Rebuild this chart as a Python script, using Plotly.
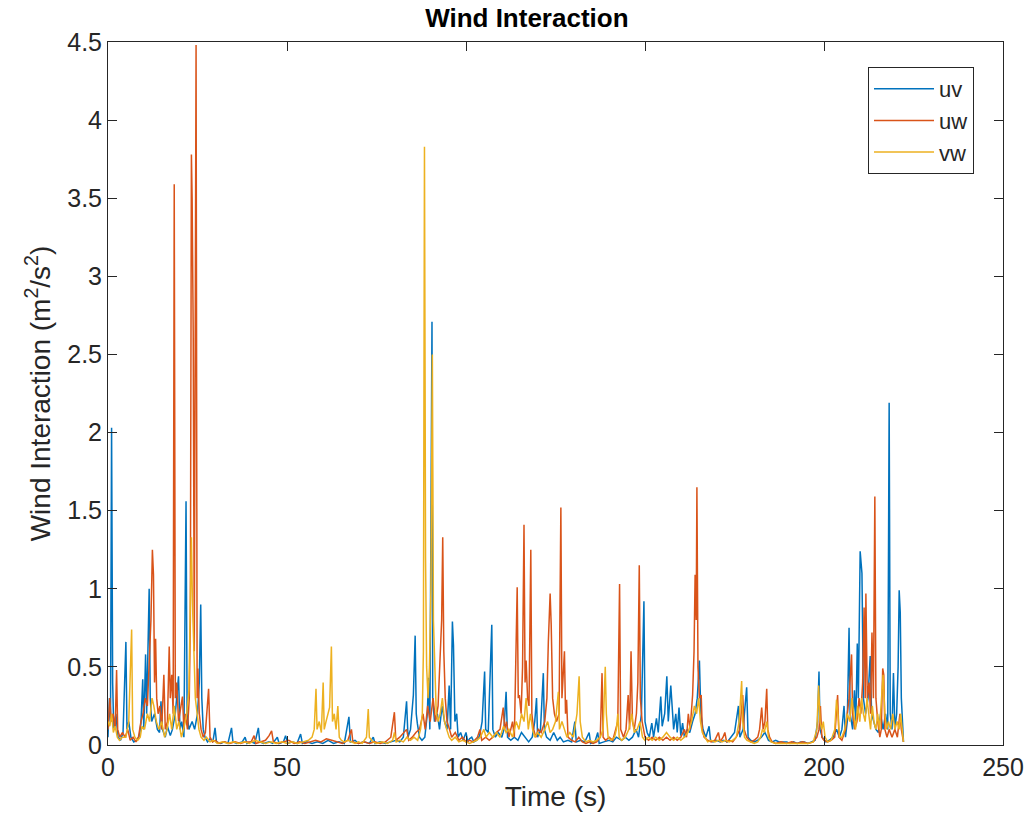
import plotly.graph_objects as go

# (time s, value m^2/s^2)
uv = [(0.0,0.05),(0.4,0.3),(0.7,0.15),(1.0,2.03),(1.3,0.4),(1.6,0.1),(2.2,0.2),(2.8,0.05),(3.5,0.03),(4.2,0.08),
      (5.0,0.66),(5.3,0.1),(5.8,0.15),(6.4,0.05),(7.2,0.02),(8.0,0.03),(8.8,0.06),(9.2,0.14),(9.7,0.42),(10.0,0.1),
      (10.5,0.58),(10.8,0.2),(11.5,1.0),(11.8,0.3),(12.2,0.15),(13.0,0.2),(13.8,0.1),(14.4,0.08),(14.8,0.28),(15.2,0.1),
      (16.0,0.05),(16.6,0.12),(17.4,0.06),(18.0,0.1),(18.8,0.2),(19.7,0.44),(20.1,0.1),(20.6,0.15),(21.2,0.05),(21.8,1.56),
      (22.1,0.2),(22.6,0.1),(23.5,0.15),(24.2,0.1),(25.0,0.2),(25.5,0.4),(25.9,0.90),(26.2,0.3),(26.6,0.1),(27.1,0.05),
      (27.8,0.02),(28.5,0.04),(29.3,0.02),(29.9,0.11),(30.3,0.02),(31.5,0.01),(32.5,0.02),(33.5,0.01),(34.5,0.11),(34.9,0.02),
      (36.0,0.01),(37.5,0.02),(38.3,0.05),(38.8,0.01),(40.0,0.02),(41.0,0.01),(42.0,0.11),(42.4,0.02),(43.5,0.01),(45.0,0.02),
      (46.0,0.01),(47.3,0.05),(47.8,0.01),(49.0,0.02),(49.6,0.06),(50.2,0.01),(51.5,0.02),(52.8,0.01),(53.8,0.07),(54.3,0.01),
      (55.5,0.02),(57.0,0.01),(58.5,0.02),(60.0,0.01),(61.5,0.03),(63.0,0.01),(64.5,0.02),(66.0,0.01),(67.3,0.18),(67.7,0.02),
      (69.0,0.03),(70.0,0.01),(71.5,0.02),(73.0,0.01),(74.1,0.05),(74.6,0.01),(76.0,0.02),(77.5,0.01),(79.0,0.02),(80.5,0.03),
      (81.5,0.02),(82.5,0.05),(83.4,0.28),(83.8,0.05),(84.5,0.1),(85.3,0.32),(85.8,0.70),(86.1,0.2),(86.4,0.14),(87.0,0.05),
      (87.7,0.03),(88.5,0.05),(89.2,0.2),(89.5,0.43),(89.9,0.1),(90.5,2.71),(90.7,0.3),(91.2,0.15),(92.0,0.2),(92.6,0.1),
      (93.3,0.25),(94.0,0.15),(94.7,0.1),(95.3,0.38),(95.7,0.1),(96.2,0.79),(96.5,0.64),(96.9,0.15),(97.4,0.2),(97.8,0.05),
      (98.5,0.08),(99.2,0.03),(100.0,0.08),(100.5,0.02),(101.0,0.04),(101.6,0.05),(102.2,0.02),(103.0,0.03),(103.8,0.06),(104.5,0.15),
      (105.2,0.47),(105.5,0.1),(106.2,0.08),(107.2,0.77),(107.5,0.1),(108.2,0.05),(109.0,0.08),(110.0,0.05),(110.6,0.1),(111.2,0.34),
      (111.6,0.05),(112.5,0.03),(113.5,0.05),(114.5,0.03),(115.5,0.08),(116.5,0.05),(117.5,0.02),(118.5,0.05),(119.2,0.15),(119.7,0.30),
      (120.0,0.05),(120.8,0.1),(121.6,0.46),(121.9,0.1),(122.5,0.05),(123.5,0.03),(124.5,0.08),(125.5,0.03),(126.3,0.05),(127.2,0.02),
      (128.5,0.03),(129.5,0.02),(130.4,0.15),(130.8,0.02),(132.0,0.03),(133.2,0.02),(134.4,0.08),(134.8,0.01),(136.0,0.02),(136.8,0.08),
      (137.2,0.01),(138.5,0.02),(140.0,0.03),(141.0,0.02),(142.0,0.05),(143.5,0.03),(144.5,0.05),(145.5,0.03),(146.5,0.05),(147.5,0.1),
      (148.2,0.05),(149.0,0.2),(149.7,0.92),(150.0,0.15),(150.6,0.08),(151.2,0.05),(151.9,0.14),(152.4,0.05),(153.2,0.17),(153.7,0.08),
      (154.4,0.31),(154.8,0.12),(155.5,0.2),(156.1,0.44),(156.5,0.15),(157.2,0.38),(157.6,0.2),(158.0,0.1),(158.6,0.2),(159.0,0.08),
      (159.5,0.24),(160.0,0.06),(160.5,0.14),(161.0,0.05),(161.8,0.1),(162.5,0.08),(163.3,0.15),(164.0,0.2),(164.6,0.3),(165.2,0.54),
      (165.6,0.2),(166.2,0.1),(167.0,0.05),(167.9,0.12),(168.3,0.03),(169.0,0.02),(170.0,0.03),(171.0,0.02),(172.0,0.03),(173.0,0.02),
      (174.0,0.05),(175.0,0.08),(176.1,0.25),(176.5,0.05),(177.4,0.1),(178.4,0.37),(178.8,0.05),(179.5,0.03),(180.5,0.02),(181.5,0.03),
      (182.5,0.05),(183.5,0.08),(184.5,0.03),(185.5,0.02),(186.5,0.03),(187.5,0.02),(188.5,0.02),(189.6,0.02),(190.5,0.01),(191.5,0.02),
      (192.5,0.01),(193.5,0.02),(194.5,0.02),(195.5,0.01),(196.5,0.02),(197.5,0.03),(198.2,0.15),(198.6,0.47),(198.9,0.1),(199.5,0.05),
      (200.5,0.02),(201.5,0.03),(202.5,0.05),(203.5,0.1),(204.3,0.05),(205.0,0.1),(205.6,0.25),(206.0,0.05),(206.5,0.15),(207.0,0.75),
      (207.3,0.2),(208.0,0.1),(208.5,0.35),(208.9,0.15),(209.3,0.65),(209.6,0.3),(210.1,1.24),(210.6,1.10),(211.0,0.3),(211.6,0.2),
      (212.3,0.3),(212.9,0.57),(213.3,0.2),(213.8,0.15),(214.5,0.1),(215.2,0.08),(215.8,0.2),(216.5,0.1),(217.2,0.2),(217.8,0.1),
      (218.2,2.19),(218.5,0.2),(219.0,0.1),(219.4,0.46),(219.8,0.1),(220.3,0.2),(220.7,0.5),(221.0,0.99),(221.3,0.85),(221.6,0.3),
      (222.0,0.05),(222.2,0.02)]

uw = [(0.0,0.1),(0.5,0.3),(0.9,0.15),(1.4,0.2),(2.0,0.1),(2.4,0.48),(2.7,0.1),(3.3,0.05),(4.0,0.08),(4.8,0.05),
      (5.5,0.1),(6.2,0.03),(7.0,0.05),(7.8,0.02),(8.5,0.05),(9.2,0.15),(9.8,0.2),(10.4,0.3),(11.0,0.25),(11.6,0.6),
      (12.0,0.8),(12.4,1.25),(12.7,1.09),(13.0,0.4),(13.3,0.68),(13.6,0.3),(14.0,0.2),(14.5,0.25),(15.0,0.1),(15.6,0.45),
      (16.0,0.1),(16.6,0.15),(17.1,0.63),(17.4,0.3),(17.8,0.45),(18.2,0.2),(18.5,3.59),(18.8,0.3),(19.2,0.4),(19.7,0.15),
      (20.3,0.25),(20.8,0.31),(21.2,0.1),(21.6,0.2),(22.2,0.1),(22.7,0.3),(23.0,0.8),(23.3,3.78),(23.5,3.5),(23.8,2.65),
      (24.1,0.6),(24.6,4.48),(24.9,0.3),(25.1,0.49),(25.5,0.2),(26.0,0.1),(26.6,0.05),(27.2,0.08),(28.1,0.36),(28.5,0.05),
      (29.2,0.02),(30.0,0.03),(31.0,0.01),(32.5,0.02),(34.0,0.01),(35.5,0.02),(37.0,0.01),(38.5,0.02),(40.0,0.02),(40.8,0.06),
      (41.3,0.01),(42.5,0.02),(44.0,0.03),(45.0,0.06),(45.7,0.09),(46.2,0.02),(47.5,0.01),(49.0,0.02),(50.5,0.03),(52.0,0.01),
      (53.5,0.02),(55.0,0.01),(56.5,0.02),(58.0,0.03),(59.5,0.02),(61.0,0.04),(62.5,0.03),(64.0,0.02),(65.5,0.01),(67.0,0.03),
      (68.0,0.10),(68.4,0.02),(70.0,0.01),(71.5,0.02),(73.0,0.01),(74.5,0.02),(76.0,0.01),(77.5,0.02),(79.0,0.05),(80.0,0.21),
      (80.4,0.03),(81.5,0.05),(82.5,0.08),(83.4,0.1),(84.0,0.03),(85.0,0.05),(86.0,0.08),(87.0,0.1),(88.0,0.2),(88.6,0.1),
      (89.3,0.25),(90.0,0.15),(90.8,0.3),(91.5,0.15),(92.2,0.25),(92.8,0.54),(93.2,0.8),(93.5,1.33),(93.8,0.6),(94.2,0.3),
      (94.7,0.15),(95.4,0.1),(96.0,0.05),(97.0,0.08),(98.0,0.03),(99.0,0.05),(100.0,0.02),(101.0,0.03),(102.0,0.02),(103.2,0.05),
      (103.9,0.1),(104.4,0.03),(105.5,0.05),(106.5,0.03),(107.5,0.05),(108.5,0.08),(109.5,0.1),(110.4,0.24),(110.8,0.1),(111.3,0.15),
      (112.0,0.05),(113.0,0.15),(113.5,0.05),(114.3,1.01),(114.6,0.3),(114.9,0.32),(115.4,0.2),(115.8,0.5),(116.2,1.41),(116.5,0.4),
      (116.8,0.54),(117.2,0.3),(117.6,0.25),(118.1,1.25),(118.4,0.2),(118.9,0.1),(119.5,0.05),(120.2,0.1),(121.0,0.08),(122.0,0.15),
      (122.6,0.3),(123.0,0.66),(123.5,0.97),(123.8,0.77),(124.2,0.3),(124.7,0.2),(125.3,0.15),(126.0,0.2),(126.5,1.52),(126.8,0.3),
      (127.5,0.60),(127.8,0.2),(128.1,0.29),(128.5,0.05),(129.5,0.03),(130.5,0.02),(131.5,0.05),(132.5,0.02),(133.5,0.01),(134.5,0.02),
      (135.5,0.01),(136.5,0.02),(137.5,0.05),(138.0,0.46),(138.3,0.05),(139.0,0.03),(140.0,0.05),(141.0,0.03),(141.8,0.1),(142.4,0.15),
      (142.9,1.03),(143.2,0.1),(144.0,0.05),(144.7,0.1),(145.3,0.32),(145.7,0.1),(146.1,0.60),(146.5,0.15),(147.0,0.1),(147.6,0.2),
      (148.0,0.4),(148.4,1.15),(148.7,0.3),(149.2,0.15),(150.0,0.05),(151.0,0.03),(152.0,0.05),(153.0,0.03),(154.0,0.05),(155.0,0.03),
      (156.0,0.05),(157.0,0.03),(158.0,0.05),(159.0,0.03),(160.0,0.05),(161.0,0.1),(161.6,0.05),(162.1,0.2),(162.6,0.1),(163.3,0.32),
      (163.7,0.6),(164.0,1.09),(164.3,0.8),(164.5,1.65),(164.8,0.5),(165.2,0.3),(165.7,0.32),(166.0,0.1),(166.5,0.05),(167.5,0.03),
      (168.5,0.02),(169.5,0.03),(170.5,0.08),(171.0,0.02),(171.8,0.05),(172.3,0.08),(172.8,0.02),(173.5,0.03),(174.5,0.02),(175.5,0.05),
      (176.5,0.1),(177.0,0.25),(177.3,0.32),(177.7,0.1),(178.4,0.05),(179.5,0.02),(180.5,0.03),(181.5,0.05),(182.0,0.1),(182.6,0.24),
      (183.0,0.1),(183.5,0.15),(184.0,0.36),(184.3,0.1),(184.8,0.05),(185.5,0.02),(186.5,0.01),(188.0,0.02),(189.5,0.01),(191.0,0.02),
      (192.5,0.01),(194.0,0.02),(195.5,0.01),(197.0,0.02),(198.0,0.05),(198.6,0.1),(199.0,0.25),(199.4,0.05),(200.0,0.03),(201.0,0.02),
      (202.0,0.03),(203.0,0.05),(203.8,0.32),(204.2,0.05),(205.0,0.03),(206.0,0.1),(206.6,0.2),(207.0,0.3),(207.7,0.58),(208.0,0.2),
      (208.6,0.1),(209.2,0.15),(209.8,0.3),(210.3,0.2),(210.8,0.4),(211.2,0.88),(211.5,0.3),(211.7,0.97),(212.1,0.3),(212.6,0.4),
      (213.0,0.2),(213.4,0.72),(213.8,0.3),(214.2,1.59),(214.5,0.3),(215.0,0.15),(215.6,0.05),(216.0,0.1),(216.4,0.49),(216.7,0.45),
      (217.0,0.1),(217.6,0.05),(218.2,0.1),(219.0,0.05),(219.8,0.1),(220.5,0.05),(221.2,0.2),(221.6,0.1),(222.2,0.02)]

vw = [(0.0,0.15),(0.5,0.12),(1.0,0.2),(1.5,0.08),(2.0,0.12),(2.6,0.05),(3.2,0.03),(4.0,0.05),(5.0,0.05),(5.8,0.15),
      (6.6,0.74),(6.9,0.1),(7.5,0.05),(8.3,0.03),(9.0,0.05),(9.5,0.12),(10.2,0.1),(11.0,0.2),(11.6,0.15),(12.3,0.3),
      (12.8,0.25),(13.5,0.15),(14.2,0.1),(15.0,0.15),(15.8,0.05),(16.5,0.1),(17.2,0.2),(17.8,0.1),(18.5,0.25),(19.2,0.1),
      (19.8,0.15),(20.5,0.05),(21.3,0.12),(22.0,0.2),(22.6,0.35),(23.0,0.88),(23.3,1.33),(23.6,0.9),(24.0,0.6),(24.4,0.3),
      (24.9,0.2),(25.4,0.1),(26.0,0.05),(26.8,0.03),(27.5,0.05),(28.5,0.02),(29.5,0.03),(30.5,0.01),(32.0,0.02),(33.5,0.01),
      (35.0,0.02),(36.5,0.01),(38.0,0.02),(39.5,0.01),(41.0,0.03),(42.5,0.02),(44.0,0.01),(45.5,0.02),(47.0,0.01),(48.5,0.02),
      (50.0,0.01),(51.5,0.02),(53.0,0.01),(54.5,0.02),(56.0,0.03),(57.0,0.05),(57.6,0.1),(58.1,0.36),(58.4,0.1),(59.0,0.15),
      (59.6,0.08),(60.1,0.40),(60.4,0.1),(60.9,0.15),(61.5,0.2),(61.9,0.24),(62.4,0.63),(62.7,0.15),(63.2,0.2),(63.7,0.1),
      (64.2,0.25),(64.6,0.05),(65.2,0.03),(66.0,0.02),(67.0,0.03),(68.0,0.02),(69.0,0.01),(70.0,0.02),(71.0,0.01),(72.2,0.05),
      (72.7,0.23),(73.0,0.05),(74.0,0.02),(75.0,0.01),(76.5,0.02),(78.0,0.01),(79.5,0.03),(80.0,0.08),(80.5,0.02),(81.5,0.03),
      (82.5,0.02),(83.5,0.05),(84.5,0.03),(85.5,0.05),(86.5,0.03),(87.3,0.1),(87.8,0.2),(88.1,0.6),(88.4,3.83),(88.7,1.2),
      (89.0,0.5),(89.4,0.3),(89.8,0.5),(90.2,1.0),(90.6,2.5),(90.9,0.8),(91.3,0.4),(91.7,0.2),(92.2,0.15),(92.8,0.2),
      (93.4,0.3),(94.0,0.15),(94.6,0.1),(95.3,0.05),(96.0,0.03),(97.0,0.05),(98.0,0.02),(99.0,0.03),(100.0,0.02),(101.0,0.01),
      (102.0,0.02),(103.0,0.03),(104.0,0.05),(105.0,0.1),(105.6,0.05),(106.5,0.08),(107.5,0.05),(108.5,0.08),(109.5,0.05),(110.5,0.12),
      (111.2,0.08),(112.0,0.1),(113.0,0.05),(114.0,0.15),(114.8,0.1),(115.5,0.2),(116.2,0.15),(116.8,0.3),(117.4,0.1),(118.0,0.2),
      (118.6,0.1),(119.2,0.05),(120.0,0.08),(121.0,0.05),(122.0,0.1),(122.8,0.15),(123.5,0.08),(124.2,0.1),(125.0,0.15),(125.8,0.34),
      (126.1,0.1),(126.8,0.15),(127.5,0.1),(128.2,0.05),(129.0,0.08),(130.0,0.05),(131.0,0.2),(131.6,0.44),(131.9,0.15),(132.5,0.05),
      (133.5,0.02),(134.5,0.03),(135.5,0.02),(136.5,0.03),(137.5,0.05),(138.3,0.1),(138.9,0.50),(139.2,0.2),(139.7,0.05),(140.5,0.03),
      (141.5,0.05),(142.0,0.1),(142.4,0.2),(142.8,0.05),(143.5,0.03),(144.5,0.05),(145.5,0.1),(146.3,0.2),(147.0,0.08),(147.8,0.1),
      (148.6,0.15),(149.3,0.05),(150.0,0.03),(151.0,0.05),(152.0,0.03),(153.0,0.05),(154.0,0.03),(155.0,0.05),(156.0,0.08),(157.0,0.05),
      (158.0,0.03),(159.0,0.05),(160.0,0.03),(161.0,0.05),(162.0,0.08),(163.0,0.15),(163.8,0.25),(164.4,0.2),(165.0,0.3),(165.5,0.15),
      (166.0,0.08),(166.8,0.05),(167.5,0.02),(168.5,0.03),(169.5,0.02),(170.5,0.03),(171.5,0.02),(172.5,0.03),(173.5,0.02),(174.5,0.03),
      (175.5,0.05),(176.3,0.15),(177.0,0.41),(177.3,0.15),(177.8,0.05),(178.5,0.03),(179.5,0.02),(180.5,0.01),(181.5,0.02),(182.3,0.05),
      (182.8,0.1),(183.3,0.08),(184.0,0.15),(184.5,0.05),(185.2,0.02),(186.5,0.01),(188.0,0.01),(189.5,0.01),(191.0,0.01),(192.5,0.01),
      (194.0,0.01),(195.5,0.01),(197.0,0.02),(198.0,0.1),(198.5,0.38),(198.9,0.15),(199.4,0.1),(199.8,0.15),(200.3,0.05),(201.0,0.02),
      (202.0,0.03),(203.0,0.1),(203.5,0.29),(203.9,0.2),(204.3,0.05),(205.0,0.05),(205.8,0.1),(206.5,0.2),(207.2,0.15),(207.8,0.3),
      (208.3,0.2),(208.8,0.1),(209.4,0.25),(210.0,0.15),(210.5,0.3),(211.0,0.2),(211.5,0.15),(212.0,0.3),(212.5,0.2),(213.0,0.1),
      (213.5,0.25),(214.0,0.14),(214.5,0.1),(215.0,0.2),(215.5,0.1),(216.0,0.3),(216.5,0.45),(217.0,0.2),(217.5,0.1),(218.0,0.15),
      (218.6,0.1),(219.2,0.2),(219.8,0.1),(220.4,0.15),(221.0,0.1),(221.4,0.2),(221.8,0.1),(222.2,0.02)]

series_names = ["uv", "uw", "vw"]
series_colors = ["#0072BD", "#D95319", "#EDB120"]
x_ticks = [0, 50, 100, 150, 200, 250]
y_ticks = [0, 0.5, 1, 1.5, 2, 2.5, 3, 3.5, 4, 4.5]

FONT = "Liberation Sans, Arial, Helvetica, sans-serif"
AX = "#262626"

fig = go.Figure()
for name, color, data in zip(series_names, series_colors, [uv, uw, vw]):
    t, v = zip(*data)
    fig.add_trace(go.Scatter(x=list(t), y=list(v), mode="lines", name=name,
                             line=dict(color=color, width=1.5)))

axis_common = dict(showline=True, linecolor=AX, linewidth=1, mirror="ticks",
                   ticks="inside", ticklen=9, tickcolor=AX, showgrid=False, zeroline=False,
                   automargin=False,
                   tickfont=dict(family=FONT, size=25, color=AX))

fig.update_layout(
    width=1029, height=837,
    margin=dict(l=108, r=26, t=42, b=92),
    paper_bgcolor="white", plot_bgcolor="white",
    title=dict(text="<b>Wind Interaction</b>", x=0.512, xref="container",
               xanchor="center", y=1 - 18 / 837, yanchor="middle",
               font=dict(family=FONT, size=26, color="black")),
    xaxis=dict(range=[0, 250], tickvals=x_ticks, ticktext=[str(v) for v in x_ticks],
               title=dict(text="Time (s)", font=dict(family=FONT, size=28, color=AX), standoff=6),
               **axis_common),
    yaxis=dict(range=[0, 4.5], tickvals=y_ticks, ticktext=[f"{v:g}" for v in y_ticks],
               title=dict(text="Wind Interaction (m<sup>2</sup>/s<sup>2</sup>)",
                          font=dict(family=FONT, size=28, color=AX), standoff=8),
               **axis_common),
    legend=dict(x=0.9676, y=0.9644, xanchor="right", yanchor="top",
                bordercolor=AX, borderwidth=1, bgcolor="white",
                font=dict(family=FONT, size=22, color=AX), itemwidth=60, tracegroupgap=2),
    showlegend=True,
)

fig.write_html("out.html")
